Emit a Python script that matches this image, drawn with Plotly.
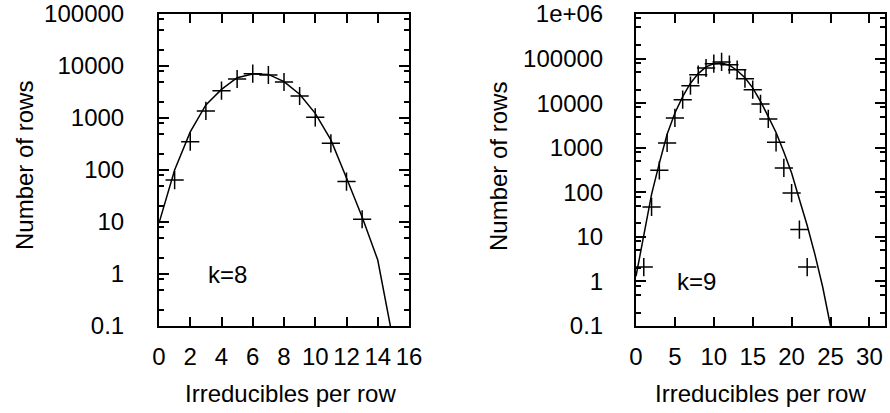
import plotly.graph_objects as go

# ---- data: k=8 panel ----
k8_x = [1, 2, 3, 4, 5, 6, 7, 8, 9, 10, 11, 12, 13]
k8_rows = [64, 350, 1365, 3350, 5620, 7110, 6710, 4920, 2650, 1030, 326, 60, 11.3]
k8_fit_x = [0, 1, 2, 3, 4, 5, 6, 7, 8, 9, 10, 11, 12, 13, 14, 15]
k8_fit = [9.5, 100, 540, 1780, 3550, 5960, 7000, 6900, 5000, 2860, 1230, 380, 70, 12.5, 1.86, 0.05]

# ---- data: k=9 panel ----
k9_x = [1, 2, 3, 4, 5, 6, 7, 8, 9, 10, 11, 12, 13, 14, 15, 16, 17, 18, 19, 20, 21, 22]
k9_rows = [2.1, 47, 311, 1282, 4650, 11970, 24660, 43550, 61500, 76900, 83900, 73000,
           56400, 35400, 20100, 9600, 4420, 1320, 352, 96, 14.6, 2.1]
k9_fit_x = list(range(0, 27))
k9_fit = [1.3, 10, 90, 450, 2000, 6000, 14000, 28000, 46000, 65000, 77000, 79000, 71000,
          54000, 37000, 22000, 11000, 5000, 2200, 800, 270, 69, 18, 4, 0.74, 0.1, 0.012]

# ---- tick labels ----
left_y_vals = [0.1, 1, 10, 100, 1000, 10000, 100000]
left_y_text = ["0.1", "1", "10", "100", "1000", "10000", "100000"]
right_y_vals = [0.1, 1, 10, 100, 1000, 10000, 100000, 1000000]
right_y_text = ["0.1", "1", "10", "100", "1000", "10000", "100000", "1e+06"]
left_x_vals = [0, 2, 4, 6, 8, 10, 12, 14, 16]
right_x_vals = [0, 5, 10, 15, 20, 25, 30]
minor_mult = [2, 5, 8]

FONT = "Liberation Sans, Arial, sans-serif"
FS = 24

def minors(lo_exp, hi_exp):
    out = []
    for e in range(lo_exp, hi_exp):
        for m in minor_mult:
            out.append(m * 10 ** e)
    return out

fig = go.Figure()
line_style = dict(color="black", width=1.5)
marker_style = dict(symbol="cross-thin", size=13, line=dict(color="black", width=1.5), color="black")

fig.add_trace(go.Scatter(x=k8_fit_x, y=k8_fit, mode="lines", line=line_style,
                         xaxis="x", yaxis="y", showlegend=False, hoverinfo="skip"))
fig.add_trace(go.Scatter(x=k8_x, y=k8_rows, mode="markers", marker=marker_style,
                         xaxis="x", yaxis="y", showlegend=False, hoverinfo="skip"))
fig.add_trace(go.Scatter(x=k9_fit_x, y=k9_fit, mode="lines", line=line_style,
                         xaxis="x2", yaxis="y2", showlegend=False, hoverinfo="skip"))
fig.add_trace(go.Scatter(x=k9_x, y=k9_rows, mode="markers", marker=marker_style,
                         xaxis="x2", yaxis="y2", showlegend=False, hoverinfo="skip"))

W, H = 890, 413
def px(x):
    return x / W
def py(y):
    return 1 - y / H

common_axis = dict(showline=True, linecolor="black", linewidth=2, mirror="ticks",
                   ticks="inside", tickcolor="black", tickwidth=1.5, showgrid=False,
                   zeroline=False, tickfont=dict(family=FONT, size=FS, color="black"),
                   tickangle=0, automargin=False)

xdom1 = [px(159), px(409)]
xdom2 = [px(636), px(885)]
ydom = [py(326), py(14)]

fig.update_layout(
    width=W, height=H, margin=dict(l=0, r=0, t=0, b=0),
    paper_bgcolor="white", plot_bgcolor="white",
    font=dict(family=FONT, size=FS, color="black"),
    xaxis=dict(domain=xdom1, range=[0, 16], tickmode="array", tickvals=left_x_vals,
               ticklen=9, ticklabelstandoff=8, anchor="y", **common_axis),
    yaxis=dict(domain=ydom, type="log", range=[-1, 5], tickmode="array",
               tickvals=left_y_vals, ticktext=left_y_text, ticklen=10,
               ticklabelstandoff=28, anchor="x",
               minor=dict(tickmode="array", tickvals=minors(-1, 5), ticklen=5,
                          tickcolor="black", tickwidth=1.5, ticks="inside"),
               **common_axis),
    xaxis2=dict(domain=xdom2, range=[0, 32], tickmode="array", tickvals=right_x_vals,
                ticklen=9, ticklabelstandoff=8, anchor="y2", **common_axis),
    yaxis2=dict(domain=ydom, type="log", range=[-1, 6], tickmode="array",
                tickvals=right_y_vals, ticktext=right_y_text, ticklen=10,
                ticklabelstandoff=26, anchor="x2",
                minor=dict(tickmode="array", tickvals=minors(-1, 6), ticklen=5,
                           tickcolor="black", tickwidth=1.5, ticks="inside"),
                **common_axis),
)

ann_font = dict(family=FONT, size=FS, color="black")
fig.add_annotation(text="Number of rows", textangle=-90, xref="paper", yref="paper",
                   x=px(24), y=py(166), showarrow=False, font=ann_font,
                   xanchor="center", yanchor="middle")
fig.add_annotation(text="Number of rows", textangle=-90, xref="paper", yref="paper",
                   x=px(498), y=py(166), showarrow=False, font=ann_font,
                   xanchor="center", yanchor="middle")
fig.add_annotation(text="Irreducibles per row", xref="paper", yref="paper",
                   x=px(290), y=py(393), showarrow=False, font=ann_font,
                   xanchor="center", yanchor="middle")
fig.add_annotation(text="Irreducibles per row", xref="paper", yref="paper",
                   x=px(760), y=py(393), showarrow=False, font=ann_font,
                   xanchor="center", yanchor="middle")
fig.add_annotation(text="k=8", x=3, y=0, xref="x", yref="y", showarrow=False,
                   font=ann_font, xanchor="left", yanchor="middle")
fig.add_annotation(text="k=9", x=5, y=0, xref="x2", yref="y2", showarrow=False,
                   font=ann_font, xanchor="left", yanchor="middle")

fig.write_html(
    "out.html",
    config={"displayModeBar": False},
    post_script="document.body.style.margin='0';document.body.style.overflow='hidden';",
)
